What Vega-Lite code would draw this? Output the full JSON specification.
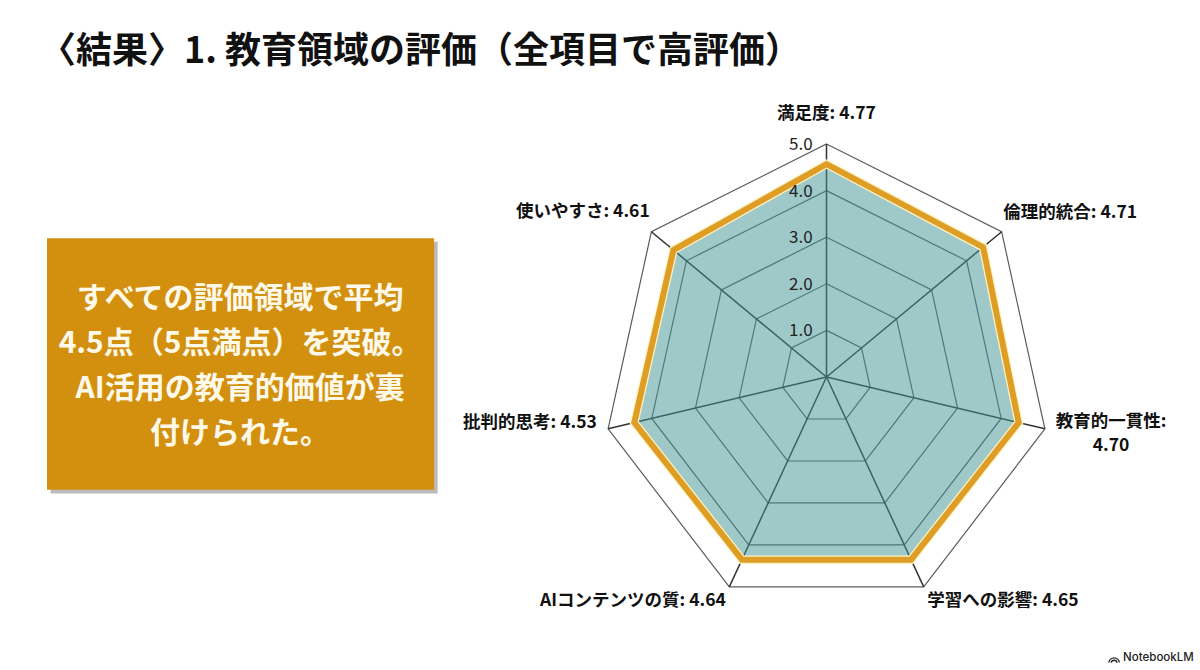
{
  "$schema": "https://vega.github.io/schema/vega-lite/v6.json",
  "width": 1200,
  "height": 594,
  "padding": {"left": 0, "right": 0, "top": 34, "bottom": 0},
  "background": "#ffffff",
  "title": {
    "text": "〈結果〉1. 教育領域の評価（全項目で高評価）",
    "anchor": "start",
    "frame": "group",
    "dx": 40,
    "offset": 6,
    "font": "Noto Sans CJK JP",
    "fontSize": 36,
    "fontWeight": "bold",
    "color": "#111111"
  },
  "config": {"view": {"stroke": null}, "axis": {"disable": true}},
  "datasets": {
    "axes": [
      {"spoke": 0, "axis": "満足度", "score": 4.77, "plotted": 4.57},
      {"spoke": 1, "axis": "倫理的統合", "score": 4.71, "plotted": 4.47},
      {"spoke": 2, "axis": "教育的一貫性", "score": 4.70, "plotted": 4.40},
      {"spoke": 3, "axis": "学習への影響", "score": 4.65, "plotted": 4.35},
      {"spoke": 4, "axis": "AIコンテンツの質", "score": 4.64, "plotted": 4.35},
      {"spoke": 5, "axis": "批判的思考", "score": 4.53, "plotted": 4.40},
      {"spoke": 6, "axis": "使いやすさ", "score": 4.61, "plotted": 4.37}
    ],
    "rings": [
      {"ring": 1, "spoke": [0, 1, 2, 3, 4, 5, 6]},
      {"ring": 2, "spoke": [0, 1, 2, 3, 4, 5, 6]},
      {"ring": 3, "spoke": [0, 1, 2, 3, 4, 5, 6]},
      {"ring": 4, "spoke": [0, 1, 2, 3, 4, 5, 6]},
      {"ring": 5, "spoke": [0, 1, 2, 3, 4, 5, 6]}
    ],
    "note": [{"note": "すべての評価領域で平均\n4.5点（5点満点）を突破。\nAI活用の教育的価値が裏\n付けられた。", "brand": "NotebookLM"}]
  },
  "layer": [
    {
      "data": {"name": "note"},
      "mark": {"type": "rect", "fill": "#777777", "opacity": 0.5},
      "encoding": {
        "x": {"datum": -17.32, "type": "quantitative", "scale": {"domain": [-18.449, 8.337], "nice": false, "zero": false}},
        "x2": {"datum": -8.68},
        "y": {"datum": 2.9, "type": "quantitative", "scale": {"domain": [-6.309, 6.438], "nice": false, "zero": false}},
        "y2": {"datum": -2.5}
      }
    },
    {
      "data": {"name": "note"},
      "mark": {"type": "rect", "fill": "#D2900E"},
      "encoding": {
        "x": {"datum": -17.4, "type": "quantitative"},
        "x2": {"datum": -8.76},
        "y": {"datum": 2.98, "type": "quantitative"},
        "y2": {"datum": -2.42}
      }
    },
    {
      "data": {"name": "note"},
      "mark": {"type": "text", "align": "center", "baseline": "middle", "lineBreak": "\n", "lineHeight": 45, "font": "Noto Sans CJK JP", "fontSize": 30, "fontWeight": "bold", "color": "#FFF9EA"},
      "encoding": {
        "x": {"datum": -13.09, "type": "quantitative"},
        "y": {"datum": 1.67, "type": "quantitative"},
        "text": {"field": "note"}
      }
    },
    {
      "data": {"name": "rings"},
      "transform": [
        {"flatten": ["spoke"]},
        {"calculate": "datum.ring * sin(datum.spoke * 2 * PI / 7)", "as": "x"},
        {"calculate": "datum.ring * cos(datum.spoke * 2 * PI / 7)", "as": "y"}
      ],
      "mark": {"type": "line", "interpolate": "linear-closed", "stroke": "#5C5C5C", "strokeWidth": 1.2},
      "encoding": {
        "x": {"field": "x", "type": "quantitative"},
        "y": {"field": "y", "type": "quantitative"},
        "detail": {"field": "ring"},
        "order": {"field": "spoke"}
      }
    },
    {
      "data": {"name": "axes"},
      "transform": [
        {"calculate": "5 * sin(datum.spoke * 2 * PI / 7)", "as": "x"},
        {"calculate": "5 * cos(datum.spoke * 2 * PI / 7)", "as": "y"}
      ],
      "mark": {"type": "rule", "stroke": "#333333", "strokeWidth": 1.5},
      "encoding": {
        "x": {"field": "x", "type": "quantitative"},
        "y": {"field": "y", "type": "quantitative"},
        "x2": {"datum": 0},
        "y2": {"datum": 0}
      }
    },
    {
      "data": {"name": "axes"},
      "transform": [
        {"calculate": "datum.plotted * sin(datum.spoke * 2 * PI / 7)", "as": "x"},
        {"calculate": "datum.plotted * cos(datum.spoke * 2 * PI / 7)", "as": "y"}
      ],
      "mark": {"type": "line", "interpolate": "linear-closed", "fill": "#3F9393", "fillOpacity": 0.5, "stroke": "#FFF2C4", "strokeWidth": 8.5},
      "encoding": {
        "x": {"field": "x", "type": "quantitative"},
        "y": {"field": "y", "type": "quantitative"},
        "order": {"field": "spoke"}
      }
    },
    {
      "data": {"name": "axes"},
      "transform": [
        {"calculate": "datum.plotted * sin(datum.spoke * 2 * PI / 7)", "as": "x"},
        {"calculate": "datum.plotted * cos(datum.spoke * 2 * PI / 7)", "as": "y"}
      ],
      "mark": {"type": "line", "interpolate": "linear-closed", "stroke": "#DE9E26", "strokeWidth": 6, "strokeJoin": "miter"},
      "encoding": {
        "x": {"field": "x", "type": "quantitative"},
        "y": {"field": "y", "type": "quantitative"},
        "order": {"field": "spoke"}
      }
    },
    {
      "data": {"values": [{"ring": 1}, {"ring": 2}, {"ring": 3}, {"ring": 4}, {"ring": 5}]},
      "mark": {"type": "text", "align": "right", "baseline": "middle", "dy": 1, "font": "Noto Sans CJK JP", "fontSize": 17, "color": "#222222"},
      "encoding": {
        "x": {"datum": -0.31, "type": "quantitative"},
        "y": {"field": "ring", "type": "quantitative"},
        "text": {"field": "ring", "type": "quantitative", "format": ".1f"}
      }
    },
    {
      "data": {"name": "axes"},
      "transform": [
        {"calculate": "[0, 5.44, 6.35, 3.94, -4.32, -6.62, -5.44][datum.spoke]", "as": "lx"},
        {"calculate": "[5.64, 3.52, -0.97, -4.81, -4.81, -0.99, 3.54][datum.spoke]", "as": "ly"},
        {"calculate": "datum.axis + (datum.spoke == 2 ? ':\\n' : ': ') + format(datum.score, '.2f')", "as": "label"}
      ],
      "mark": {"type": "text", "align": "center", "baseline": "middle", "lineBreak": "\n", "lineHeight": 24, "font": "Noto Sans CJK JP", "fontSize": 17.5, "fontWeight": "bold", "color": "#111111"},
      "encoding": {
        "x": {"field": "lx", "type": "quantitative"},
        "y": {"field": "ly", "type": "quantitative"},
        "text": {"field": "label"}
      }
    },
    {
      "data": {"name": "note"},
      "mark": {"type": "text", "align": "left", "baseline": "middle", "font": "Inter", "fontSize": 11.5, "fontWeight": 500, "color": "#222222"},
      "encoding": {
        "x": {"datum": 6.62, "type": "quantitative"},
        "y": {"datum": -6.03, "type": "quantitative"},
        "text": {"field": "brand"}
      }
    },
    {
      "data": {"name": "note"},
      "mark": {"type": "arc", "radius": 6, "radius2": 4.6, "theta": -1.45, "theta2": 1.45, "fill": "#222222"},
      "encoding": {"x": {"datum": 6.42, "type": "quantitative"}, "y": {"datum": -6.14, "type": "quantitative"}}
    },
    {
      "data": {"name": "note"},
      "mark": {"type": "arc", "radius": 3.6, "radius2": 2.2, "theta": -1.45, "theta2": 1.45, "fill": "#222222"},
      "encoding": {"x": {"datum": 6.42, "type": "quantitative"}, "y": {"datum": -6.14, "type": "quantitative"}}
    }
  ]
}
